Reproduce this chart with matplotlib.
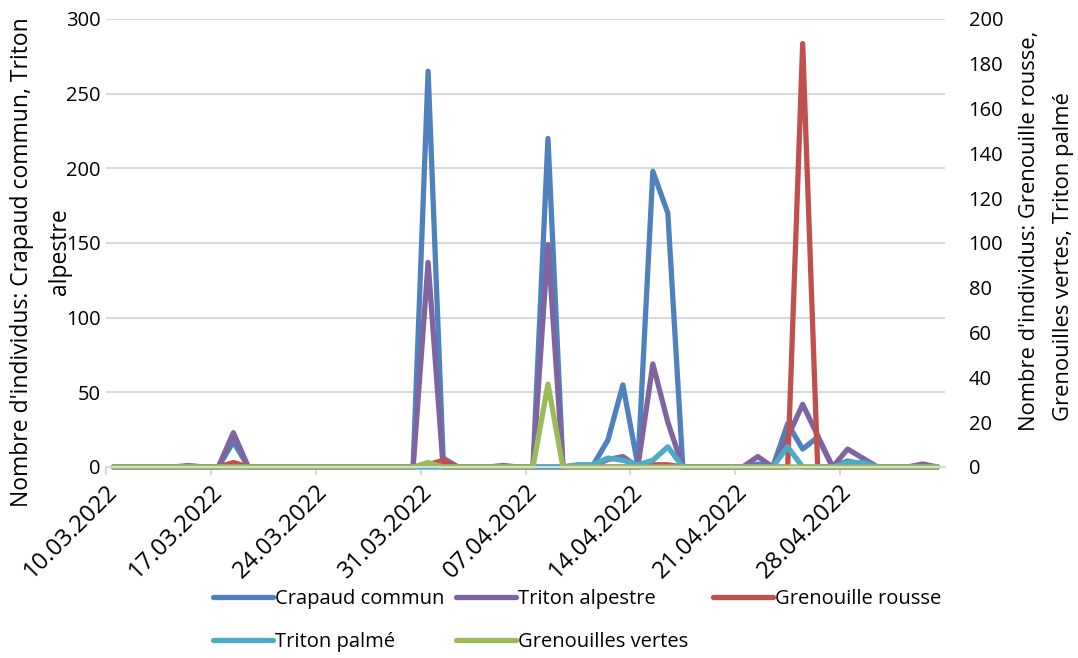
import numpy as np
import pandas as pd
import matplotlib
matplotlib.use("Agg")
import matplotlib.pyplot as plt
import matplotlib.dates as mdates

plt.rcParams['font.family'] = ['Open Sans', 'DejaVu Sans']

# one value per day, 10.03.2022 -> 04.05.2022
dates = pd.date_range("2022-03-10", periods=56, freq="D")

crapaud = [0, 0, 0, 0, 0, 1, 0, 0, 17, 0,
           0, 0, 0, 0, 0, 0, 0, 0, 0, 0,
           0, 265, 6, 0, 0, 0, 0, 0, 0, 220,
           0, 1, 1, 18, 55, 1, 198, 170, 0, 0,
           0, 0, 0, 2, 0, 29, 12, 20, 0, 4,
           2, 0, 0, 0, 0, 0]
alpestre = [0, 0, 0, 0, 0, 0, 0, 0, 23, 0,
            0, 0, 0, 0, 0, 0, 0, 0, 0, 0,
            0, 137, 0, 0, 0, 0, 1, 0, 0, 149,
            0, 1, 1, 5, 7, 0, 69, 30, 0, 0,
            0, 0, 0, 7, 0, 20, 42, 21, 0, 12,
            6, 0, 0, 0, 2, 0]
# secondary axis
rousse = [0, 0, 0, 0, 0, 0, 0, 0, 2, 0,
          0, 0, 0, 0, 0, 0, 0, 0, 0, 0,
          0, 1, 3, 0, 0, 0, 0, 0, 0, 0,
          0, 0, 0, 0, 0, 0, 1, 1, 0, 0,
          0, 0, 0, 0, 0, 0, 189, 0, 0, 0,
          0, 0, 0, 0, 0, 0]
palme = [0, 0, 0, 0, 0, 0, 0, 0, 0, 0,
         0, 0, 0, 0, 0, 0, 0, 0, 0, 0,
         0, 0, 0, 0, 0, 0, 0, 0, 0, 0,
         0, 1, 1, 4, 3, 1, 3, 9, 0, 0,
         0, 0, 0, 0, 0, 9, 0, 0, 0, 2,
         2, 0, 0, 0, 0, 0]
vertes = [0, 0, 0, 0, 0, 0, 0, 0, 0, 0,
          0, 0, 0, 0, 0, 0, 0, 0, 0, 0,
          0, 2, 0, 0, 0, 0, 0, 0, 0, 37,
          0, 0, 0, 0, 0, 0, 0, 0, 0, 0,
          0, 0, 0, 0, 0, 0, 0, 0, 0, 0,
          0, 0, 0, 0, 0, 0]

tick_labels = ["10.03.2022", "17.03.2022", "24.03.2022", "31.03.2022",
               "07.04.2022", "14.04.2022", "21.04.2022", "28.04.2022"]

W, H = 1078, 658
fs = 14.5
fig = plt.figure(figsize=(W / 100, H / 100), dpi=100)
ax = fig.add_axes([106 / W, 1 - 467 / H, (945 - 106) / W, (467 - 19) / H])
ax2 = ax.twinx()

x = mdates.date2num(dates)
kw = dict(lw=3.8, solid_capstyle='round', solid_joinstyle='round', clip_on=False)
l1, = ax.plot(x, crapaud, color='#4F81BD', label='Crapaud commun', **kw)
l2, = ax.plot(x, alpestre, color='#8064A2', label='Triton alpestre', **kw)
l3, = ax2.plot(x, rousse, color='#C0504D', label='Grenouille rousse', **kw)
l4, = ax2.plot(x, palme, color='#4BACC6', label='Triton palmé', **kw)
l5, = ax2.plot(x, vertes, color='#9BBB59', label='Grenouilles vertes', **kw)

ax.set_xlim(x[0] - 0.5, x[-1] + 0.5)
ax.set_ylim(0, 300)
ax2.set_ylim(0, 200)
ax.set_yticks(range(0, 301, 50))
ax2.set_yticks(range(0, 201, 20))
ax.set_xticks(x[0] - 0.5 + 7 * np.arange(len(tick_labels)))
ax.set_xticklabels(tick_labels, rotation=45, ha='right', va='top',
                   rotation_mode='anchor', fontsize=17.3)
ax.tick_params(axis='x', length=6, width=1.5, color='#D9D9D9', pad=3)
ax.tick_params(axis='y', length=0, labelsize=fs, pad=4)
ax2.tick_params(axis='y', length=0, labelsize=fs, pad=17)
ax.yaxis.grid(True, color='#D9D9D9', lw=1.5)
ax.set_axisbelow(True)
for a in (ax, ax2):
    for s in ('top', 'left', 'right'):
        a.spines[s].set_visible(False)
    a.spines['bottom'].set_color('#D9D9D9')
    a.spines['bottom'].set_linewidth(1.5)

# axis titles (Excel wraps them; the second left line sits over the ticks)
fig.text(22 / W, 1 - 262 / H, "Nombre d'individus: Crapaud commun, Triton",
         rotation=90, ha='center', va='center', fontsize=16.5)
fig.text(60 / W, 1 - 252 / H, "alpestre",
         rotation=90, ha='center', va='center', fontsize=16.5)
fig.text(1030 / W, 1 - 231 / H, "Nombre d'individus: Grenouille rousse,",
         rotation=90, ha='center', va='center', fontsize=15.8)
fig.text(1063 / W, 1 - 257 / H, "Grenouilles vertes, Triton palmé",
         rotation=90, ha='center', va='center', fontsize=15.8)

leg_kw = dict(loc='upper left', frameon=False, fontsize=fs, handlelength=3.0,
              handletextpad=0.1, labelspacing=1.15, borderaxespad=0, borderpad=0)
fig.legend([l1, l4], ['Crapaud commun', 'Triton palmé'],
           bbox_to_anchor=(213 / W, 1 - 589 / H), **leg_kw)
fig.legend([l2, l5], ['Triton alpestre', 'Grenouilles vertes'],
           bbox_to_anchor=(456 / W, 1 - 589 / H), **leg_kw)
fig.legend([l3], ['Grenouille rousse'],
           bbox_to_anchor=(713 / W, 1 - 589 / H), **leg_kw)

fig.savefig("out.png", dpi=100)
